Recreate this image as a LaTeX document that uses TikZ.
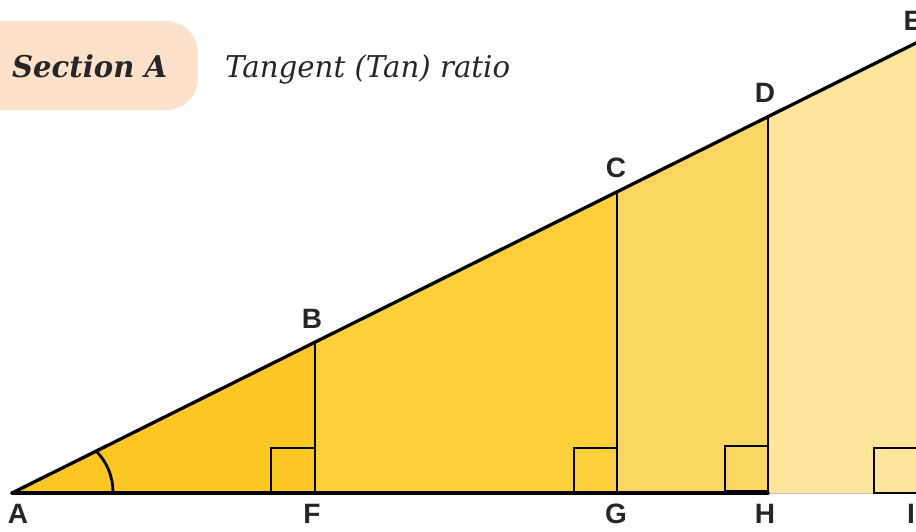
\documentclass[tikz,border=0pt]{standalone}
\usepackage{fontspec}
\usepackage{graphicx}
\setmainfont{DejaVu Serif}
\newfontfamily\labelfont{Liberation Sans}
\definecolor{peach}{HTML}{FDE1CB}
\definecolor{yA}{HTML}{FCC624}
\definecolor{yB}{HTML}{FDD03B}
\definecolor{yC}{HTML}{FCD662}
\definecolor{yD}{HTML}{FEE59B}
\tikzset{
  vlabel/.style={anchor=base, inner sep=0pt, font=\labelfont\bfseries\fontsize{28}{32}\selectfont, text=black!85},
  mainline/.style={line width=3.3pt, line cap=round},
  edgeline/.style={line width=2.6pt},
  sqmark/.style={line width=2.8pt},
  titletext/.style={anchor=base west, inner sep=0pt, text=black!85}
}
\begin{document}
\begin{tikzpicture}[x=1pt,y=-1pt]
\useasboundingbox (0,0) rectangle (916,531);
% header
\fill[peach, rounded corners=32pt] (-40,21) rectangle (198,110);
\node[titletext] (sec) at (12,77) {\resizebox{155pt}{\height}{\fontsize{30}{34}\selectfont\bfseries\itshape Section A}};
\node[titletext] (ttl) at (225,77) {\resizebox{285pt}{\height}{\fontsize{30}{34}\selectfont\itshape Tangent (Tan) ratio}};
% vertices
\coordinate (A) at (12,493);
\coordinate (B) at (315,342.2);
\coordinate (C) at (617,191.8);
\coordinate (D) at (768,116.7);
\coordinate (E) at (918,42);
\coordinate (F) at (315,493);
\coordinate (G) at (617,493);
\coordinate (H) at (768,493);
\coordinate (I) at (918,493);
% fills
\fill[yA] (A)--(B)--(F)--cycle;
\fill[yB] (F)--(B)--(C)--(G)--cycle;
\fill[yC] (G)--(C)--(D)--(H)--cycle;
\fill[yD] (H)--(D)--(E)--(I)--cycle;
\draw[black!25, line width=0.6pt] (H)--(I);
% right-angle marks
\draw[sqmark] (F) ++(-44,0) rectangle ++(44,-45);
\draw[sqmark] (G) ++(-43,0) rectangle ++(43,-45);
\draw[sqmark] (H) ++(-43,-2) rectangle ++(43,-45);
\draw[sqmark] (I) ++(-44,0) rectangle ++(44,-45);
% verticals
\draw[edgeline] (B)--(F);
\draw[edgeline] (C)--(G);
\draw[edgeline] (D)--(H);
% main lines
\draw[mainline] (A)--(H);
\draw[mainline] (A)--(E);
% angle arc
\draw[line width=2.8pt] (113,492) arc[start angle=0, end angle=-45, radius=58];
% labels
\node[vlabel] (lA) at (18,523) {A};
\node[vlabel] (lF) at (312,523) {F};
\node[vlabel] (lG) at (616,523) {G};
\node[vlabel] (lH) at (765,523) {H};
\node[vlabel] (lI) at (911,523) {I};
\node[vlabel] (lB) at (312,328) {B};
\node[vlabel] (lC) at (616,177) {C};
\node[vlabel] (lD) at (765,102) {D};
\node[vlabel] (lE) at (913,30) {E};
\end{tikzpicture}
\end{document}
